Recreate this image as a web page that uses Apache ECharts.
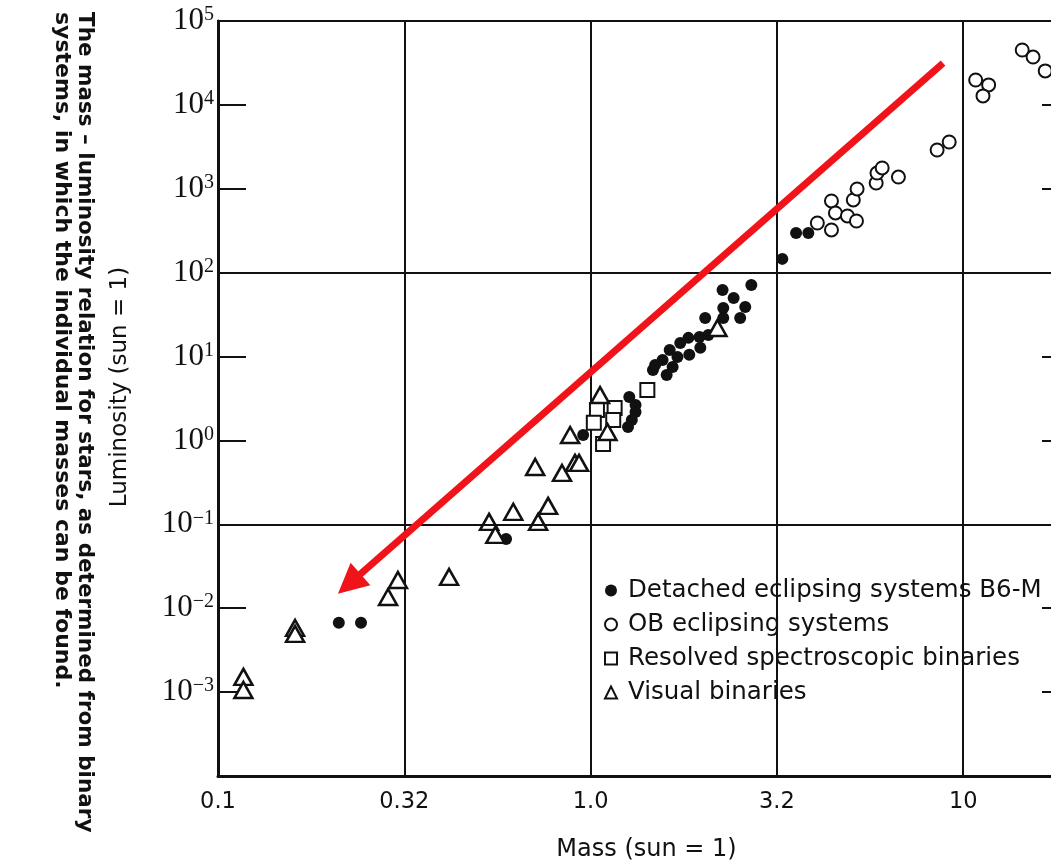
<!doctype html>
<html>
	<head>
		<meta charset="utf-8">
		<title>Mass-luminosity relation</title>
		<script src="https://cdn.jsdelivr.net/npm/echarts@6/dist/echarts.min.js"></script>
		<style>
			html, body { margin: 0; padding: 0; background: #fff; }
			#chart { width: 1051px; height: 862px; }
		</style>
	</head>
	<body>
		<div id="chart"></div>
		<script type="text/javascript">
			// masses / luminosities in solar units
			var detachedMass = [0.211, 0.242, 0.593, 0.955, 1.27, 1.32, 1.32, 1.29, 1.26, 1.47, 1.49, 1.60, 1.56, 1.66, 1.63, 1.74, 1.71, 1.84, 1.83, 1.97, 1.96, 2.07, 2.03, 2.27, 2.52, 2.27, 2.60, 2.26, 2.42, 2.70, 3.27, 3.56, 3.84];
			var detachedLum = [0.0067, 0.0067, 0.067, 1.16, 3.30, 2.65, 2.19, 1.75, 1.45, 6.92, 7.94, 6.04, 9.12, 7.52, 12.0, 14.5, 9.89, 10.5, 16.7, 12.7, 17.1, 18.1, 28.8, 28.8, 28.8, 37.9, 39.0, 62.2, 49.9, 71.3, 146, 297, 297];

			var obMass = [4.06, 4.43, 4.54, 4.43, 4.89, 5.17, 5.07, 5.19, 5.84, 5.87, 6.06, 6.70, 8.51, 9.17, 10.8, 11.7, 11.3, 14.4, 15.4, 16.6];
			var obLum = [391, 716, 515, 323, 474, 413, 736, 995, 1170, 1540, 1770, 1380, 2900, 3610, 19800, 17300, 12800, 45100, 37200, 25400];

			var resolvedMass = [1.42, 1.16, 1.04, 1.02, 1.15, 1.08];
			var resolvedLum = [4.00, 2.44, 2.31, 1.62, 1.75, 0.908];

			var visualMass = [0.117, 0.117, 0.161, 0.161, 0.286, 0.304, 0.417, 0.534, 0.555, 0.620, 0.723, 0.769, 0.710, 0.838, 0.908, 0.931, 0.881, 1.06, 1.11, 2.19];
			var visualLum = [0.00152, 0.00106, 0.00582, 0.00494, 0.0136, 0.0217, 0.0236, 0.107, 0.0748, 0.141, 0.107, 0.166, 0.483, 0.410, 0.540, 0.540, 1.16, 3.48, 1.26, 21.9];

			var seriesNames = ['Detached eclipsing systems B6-M', 'OB eclipsing systems', 'Resolved spectroscopic binaries', 'Visual binaries'];

			var xTickLabels = ['0.1', '0.32', '1.0', '3.2', '10'];
			var fullWidthLum = [100, 0.1];
			// red arrow, tail then head (mass, luminosity)
			var arrowFrom = [8.83, 31500];
			var arrowTo = [0.225, 0.0195];

			function toLog(ms, ls) {
				var out = [];
				for (var i = 0; i < ms.length; i++) {
					out.push([Math.log10(ms[i]), Math.log10(ls[i])]);
				}
				return out;
			}

			var ink = '#111';
			var hollow = { color: '#fff', borderColor: ink, borderWidth: 2, opacity: 1 };

			var myChart = echarts.init(document.getElementById('chart'));
			var option = {
				animation: false,
				backgroundColor: '#fff',
				grid: {
					left: 218,
					top: 21,
					width: 857,
					height: 755,
					outerBoundsMode: 'none',
					containLabel: false,
					show: true,
					borderColor: ink,
					borderWidth: 2
				},
				legend: {
					orient: 'vertical',
					left: 604,
					top: 578,
					padding: 0,
					itemGap: 9,
					itemWidth: 12,
					itemHeight: 12,
					data: seriesNames,
					textStyle: {
						color: ink,
						fontSize: 24.5,
						fontFamily: 'DejaVu Sans',
						padding: [0, 0, 0, 6]
					}
				},
				xAxis: {
					type: 'value',
					min: -1,
					max: 1.3,
					interval: 0.5,
					axisLine: { onZero: false, lineStyle: { color: ink, width: 3 } },
					axisTick: { show: false },
					splitLine: { show: true, lineStyle: { color: ink, width: 2 } },
					axisLabel: {
						color: ink,
						fontSize: 22.5,
						fontFamily: 'DejaVu Sans',
						margin: 15,
						showMaxLabel: false,
						formatter: function(v) {
							var i = Math.round((v + 1) * 2);
							return (Math.abs((v + 1) * 2 - i) < 1e-6 && xTickLabels[i]) ? xTickLabels[i] : '';
						}
					},
					name: 'Mass (sun = 1)',
					nameLocation: 'middle',
					nameGap: 62,
					nameTextStyle: { color: ink, fontSize: 24, fontFamily: 'DejaVu Sans' }
				},
				yAxis: [{
					type: 'value',
					min: -4,
					max: 5,
					interval: 1,
					axisLine: { onZero: false, lineStyle: { color: ink, width: 3 } },
					axisTick: { inside: true, length: 28, lineStyle: { color: ink, width: 2 } },
					splitLine: { show: false },
					axisLabel: {
						margin: 4,
						formatter: function(v) {
							if (v < -3) return '';
							var e = v < 0 ? '\u2212' + (-v) : '' + v;
							return '{a|10}{b|' + e + '}';
						},
						rich: {
							a: { fontSize: 31, fontFamily: 'Liberation Serif', color: ink, lineHeight: 32 },
							b: { fontSize: 20, fontFamily: 'Liberation Serif', color: ink, lineHeight: 20, verticalAlign: 'top' }
						}
					}
				}, {
					type: 'value',
					position: 'right',
					min: -4,
					max: 5,
					interval: 1,
					axisLine: { show: false, onZero: false },
					axisTick: { inside: true, length: 33, lineStyle: { color: ink, width: 2 } },
					splitLine: { show: false },
					axisLabel: { show: false }
				}],
				graphic: [{
					type: 'text',
					x: 85,
					y: 12,
					rotation: -Math.PI / 2,
					style: {
						text: 'The mass \u2013 luminosity relation for stars, as determined from binary',
						fill: ink,
						fontSize: 21.5,
						fontWeight: 'bold',
						fontFamily: 'DejaVu Sans',
						align: 'left',
						verticalAlign: 'middle'
					}
				}, {
					type: 'text',
					x: 62,
					y: 12,
					rotation: -Math.PI / 2,
					style: {
						text: 'systems, in which the individual masses can be found.',
						fill: ink,
						fontSize: 22,
						fontWeight: 'bold',
						fontFamily: 'DejaVu Sans',
						align: 'left',
						verticalAlign: 'middle'
					}
				}, {
					type: 'text',
					x: 120,
					y: 387,
					rotation: Math.PI / 2,
					style: {
						text: 'Luminosity (sun = 1)',
						fill: ink,
						fontSize: 23,
						fontFamily: 'DejaVu Sans',
						align: 'center',
						verticalAlign: 'middle'
					}
				}],
				series: [{
					name: seriesNames[0],
					type: 'scatter',
					symbol: 'circle',
					symbolSize: 12,
					itemStyle: { color: ink, opacity: 1 },
					data: toLog(detachedMass, detachedLum)
				}, {
					name: seriesNames[1],
					type: 'scatter',
					symbol: 'circle',
					symbolSize: 13,
					itemStyle: hollow,
					data: toLog(obMass, obLum)
				}, {
					name: seriesNames[2],
					type: 'scatter',
					symbol: 'rect',
					symbolSize: 14,
					itemStyle: hollow,
					data: toLog(resolvedMass, resolvedLum)
				}, {
					name: seriesNames[3],
					type: 'scatter',
					symbol: 'triangle',
					symbolSize: [18, 16],
					itemStyle: { color: '#fff', borderColor: ink, borderWidth: 2.5, opacity: 1 },
					data: toLog(visualMass, visualLum)
				}, {
					// full-width reference lines at 10^2 and 10^-1
					type: 'line',
					data: [],
					silent: true,
					markLine: {
						silent: true,
						symbol: 'none',
						label: { show: false },
						lineStyle: { color: ink, width: 2, type: 'solid' },
						data: fullWidthLum.map(function(l) { return { yAxis: Math.log10(l) }; })
					}
				}, {
					// red arrow annotation
					type: 'line',
					data: [],
					silent: true,
					z: 10,
					markLine: {
						silent: true,
						symbol: ['none', 'triangle'],
						symbolSize: 30,
						label: { show: false },
						lineStyle: { color: '#f0141a', width: 7, type: 'solid', opacity: 1 },
						itemStyle: { color: '#f0141a', opacity: 1 },
						data: [[
							{ coord: [Math.log10(arrowFrom[0]), Math.log10(arrowFrom[1])] },
							{ coord: [Math.log10(arrowTo[0]), Math.log10(arrowTo[1])] }
						]]
					}
				}]
			};
			myChart.setOption(option);
		</script>
	</body>
</html>
